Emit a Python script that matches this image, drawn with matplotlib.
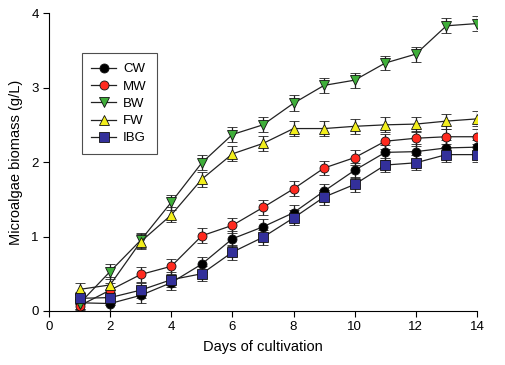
import matplotlib
matplotlib.use("Agg")
import matplotlib.pyplot as plt
from matplotlib.lines import Line2D

plt.rcParams['font.family'] = ['Liberation Sans', 'DejaVu Sans']

days = [1, 2, 3, 4, 5, 6, 7, 8, 9, 10, 11, 12, 13, 14]

cw = [0.11, 0.10, 0.21, 0.38, 0.63, 0.97, 1.13, 1.32, 1.61, 1.89, 2.13, 2.14, 2.19, 2.20]
mw = [0.07, 0.28, 0.49, 0.60, 1.01, 1.15, 1.39, 1.64, 1.92, 2.06, 2.28, 2.32, 2.34, 2.34]
bw = [0.10, 0.53, 0.95, 1.46, 1.99, 2.37, 2.50, 2.79, 3.03, 3.10, 3.33, 3.45, 3.83, 3.86]
fw = [0.29, 0.35, 0.93, 1.29, 1.77, 2.11, 2.25, 2.45, 2.45, 2.48, 2.50, 2.51, 2.55, 2.58]
ibg = [0.17, 0.18, 0.28, 0.42, 0.50, 0.79, 0.99, 1.25, 1.53, 1.70, 1.96, 1.99, 2.10, 2.10]

cw_err = [0.08, 0.10, 0.10, 0.10, 0.10, 0.10, 0.10, 0.10, 0.10, 0.10, 0.10, 0.10, 0.10, 0.10]
mw_err = [0.06, 0.10, 0.10, 0.10, 0.10, 0.10, 0.10, 0.10, 0.10, 0.10, 0.10, 0.10, 0.10, 0.10]
bw_err = [0.08, 0.10, 0.10, 0.10, 0.10, 0.10, 0.10, 0.11, 0.10, 0.10, 0.10, 0.10, 0.10, 0.10]
fw_err = [0.08, 0.10, 0.10, 0.10, 0.10, 0.10, 0.10, 0.10, 0.10, 0.10, 0.10, 0.10, 0.10, 0.10]
ibg_err = [0.08, 0.10, 0.10, 0.10, 0.10, 0.10, 0.10, 0.10, 0.10, 0.10, 0.10, 0.10, 0.10, 0.10]

labels = ["CW", "MW", "BW", "FW", "IBG"]
series = [cw, mw, bw, fw, ibg]
errors = [cw_err, mw_err, bw_err, fw_err, ibg_err]
colors = ["#000000", "#ff2a1f", "#3fae3a", "#f2ee1c", "#33309a"]
markers = ["o", "o", "v", "^", "s"]

fig = plt.figure(figsize=(5.05, 3.65), dpi=100)
ax = fig.add_axes([0.097, 0.148, 0.8475, 0.816])

handles = []
for y, e, c, m, lab in zip(series, errors, colors, markers, labels):
    ax.errorbar(days, y, yerr=e, color="#222222", linewidth=0.9,
                marker=m, markersize=6.5, markerfacecolor=c,
                markeredgecolor="#111111", markeredgewidth=0.6,
                ecolor="#222222", elinewidth=0.9, capsize=3.5, capthick=0.9)
    handles.append(Line2D([], [], color="#222222", linewidth=0.9, marker=m,
                          markersize=6.5, markerfacecolor=c,
                          markeredgecolor="#111111", markeredgewidth=0.6,
                          label=lab))

ax.set_xlim(0, 14)
ax.set_ylim(0, 4)
ax.set_xticks([0, 2, 4, 6, 8, 10, 12, 14])
ax.set_yticks([0, 1, 2, 3, 4])
ax.spines['top'].set_visible(False)
ax.spines['right'].set_visible(False)
ax.tick_params(direction='out', length=4, width=0.8, labelsize=9.5)
ax.set_xlabel("Days of cultivation", fontsize=10.5, labelpad=5)
ax.set_ylabel("Microalgae biomass (g/L)", fontsize=10.5, labelpad=6)

leg = ax.legend(handles=handles, loc="upper left", bbox_to_anchor=(0.076, 0.865),
                borderaxespad=0, fontsize=9.5, frameon=True, fancybox=False,
                handlelength=1.9, handletextpad=0.5, labelspacing=0.38,
                borderpad=0.75)
leg.get_frame().set_edgecolor("#222222")
leg.get_frame().set_linewidth(0.8)

fig.savefig("out.png", dpi=100)
